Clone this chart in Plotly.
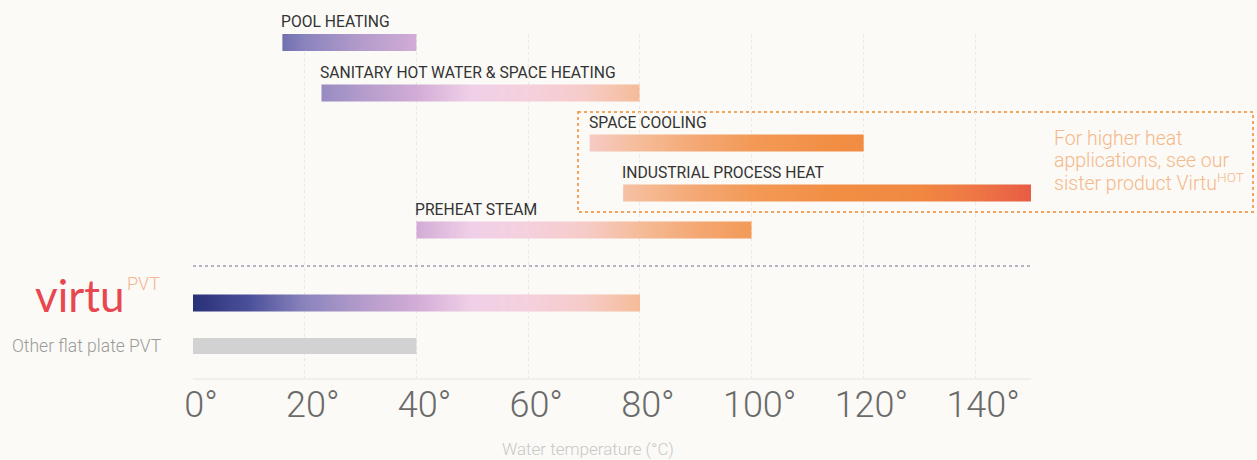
import numpy as np
import plotly.graph_objects as go

# ---------------- data ----------------
applications = ["POOL HEATING", "SANITARY HOT WATER & SPACE HEATING", "SPACE COOLING",
                "INDUSTRIAL PROCESS HEAT", "PREHEAT STEAM"]
app_start = [16, 23, 71, 77, 40]
app_end = [40, 80, 120, 150, 100]

virtu_range = [0, 80]
other_range = [0, 40]

tick_values = [0, 20, 40, 60, 80, 100, 120, 140]
tick_labels = [f"{v}°" for v in tick_values]

note_lines = ["For higher heat", "applications, see our", "sister product Virtu<sup>HOT</sup>"]

# temperature -> colour scale (°C, colour)
temp_stops = [0, 10, 20, 30, 40, 50, 60, 70, 80, 90, 100, 115, 130, 140, 150]
temp_colors = ["#283077", "#4b509a", "#8a84bd", "#b39bcb", "#d2acd6", "#f0d0e8", "#f5d0dd",
               "#f6cbc9", "#f5bc98", "#f4a874", "#f39a57", "#f28e44", "#f08842", "#ee7645", "#e85c45"]

# ---------------- layout helpers ----------------
X_MIN, X_MAX = 0, 150
Y_SPAN = 344            # y axis in pixel-like units, top = 0
row_pos = [8.5, 59, 109, 159, 196]   # application rows
virtu_pos = 269
other_pos = 312
sep_pos = 232
BAR_H = 17
LABEL_OFF = -20.5
note_y_px = [138.5, 160, 181.5]

BG = "#fbfaf6"
colorscale = [[s / X_MAX, c] for s, c in zip(temp_stops, temp_colors)]


def py(y):
    """axis y -> paper y"""
    return 1 - y / Y_SPAN


def px_x(p):
    """pixel x in figure -> paper x"""
    return (p - 193) / (1031 - 193)


fig = go.Figure()


def gradient_bar(x0, x1, yc):
    n = 240
    edges = np.linspace(x0, x1, n + 1)
    mids = (edges[:-1] + edges[1:]) / 2
    fig.add_trace(go.Heatmap(
        x=edges, y=[yc - BAR_H / 2, yc + BAR_H / 2], z=[mids],
        zmin=X_MIN, zmax=X_MAX, colorscale=colorscale, showscale=False,
        hoverinfo="skip"))


for name, s, e, yc in zip(applications, app_start, app_end, row_pos):
    gradient_bar(s, e, yc)
    fig.add_annotation(x=s, xref="x", y=py(yc + LABEL_OFF), yref="paper", text=name,
                       xanchor="left", yanchor="middle", showarrow=False, xshift=-3,
                       font=dict(family="Roboto", size=15.7, color="#333333"))

gradient_bar(virtu_range[0], virtu_range[1], virtu_pos)

fig.add_trace(go.Bar(
    x=[other_range[1] - other_range[0]], base=[other_range[0]], y=[other_pos],
    orientation="h", width=BAR_H - 1, marker=dict(color="#d2d2d2", line=dict(width=0)),
    hoverinfo="skip", showlegend=False))

# separator dotted line
fig.add_shape(type="line", xref="x", yref="y", x0=X_MIN, x1=X_MAX, y0=sep_pos, y1=sep_pos,
              line=dict(color="#a09cb8", width=1.5, dash="dot"))

# dotted box around high temp applications
fig.add_shape(type="rect", xref="paper", yref="paper",
              x0=px_x(578), x1=px_x(1253), y0=py(112 - 34), y1=py(212 - 34),
              line=dict(color="#f4a45e", width=2, dash="dot"), layer="below")

for line, ypx in zip(note_lines, note_y_px):
    fig.add_annotation(xref="paper", yref="paper", x=px_x(1052), y=py(ypx - 34),
                       xanchor="left", yanchor="middle", align="left", showarrow=False,
                       text=line,
                       font=dict(family="Roboto", size=19.5, color="#f5b88a", weight=300))

# virtu logo
fig.add_annotation(xref="paper", yref="paper", x=px_x(127), y=py(295 - 34),
                   xanchor="right", yanchor="middle", showarrow=False, text="virtu",
                   font=dict(family="Lato", size=44, color="#e8474f", weight=400))
fig.add_annotation(xref="paper", yref="paper", x=px_x(125), y=py(283 - 34),
                   xanchor="left", yanchor="middle", showarrow=False, text="PVT",
                   font=dict(family="Roboto", size=18, color="#f5b58f", weight=300))
fig.add_annotation(xref="paper", yref="paper", x=px_x(164), y=py(346 - 34),
                   xanchor="right", yanchor="middle", showarrow=False, text="Other flat plate PVT",
                   font=dict(family="Roboto", size=17.5, color="#9a9a9a", weight=300))

# axis title
fig.add_annotation(xref="paper", yref="paper", x=px_x(588), y=py(449 - 34),
                   xanchor="center", yanchor="middle", showarrow=False,
                   text="Water temperature (°C)",
                   font=dict(family="Roboto", size=17, color="#c8c8c8", weight=300))

fig.update_layout(
    width=1257, height=460, paper_bgcolor=BG, plot_bgcolor=BG,
    margin=dict(l=193, r=226, t=34, b=82, autoexpand=False),
    showlegend=False,
    xaxis=dict(range=[X_MIN, X_MAX], tickvals=tick_values, ticktext=tick_labels,
               showgrid=True, gridcolor="#e8e8e5", griddash="dot", gridwidth=1,
               layer="above traces", zeroline=False,
               showline=True, linecolor="#efefeb", linewidth=2,
               ticks="", ticklabelstandoff=-6, ticklabelshift=8,
               tickfont=dict(family="Roboto", size=36, color="#6a6a6a", weight=300),
               fixedrange=True),
    yaxis=dict(range=[Y_SPAN, 0], showgrid=False, zeroline=False, showticklabels=False,
               showline=False, fixedrange=True),
)

fig.write_html("out.html", post_script="document.body.style.margin='0';",
               config={"displayModeBar": False})
